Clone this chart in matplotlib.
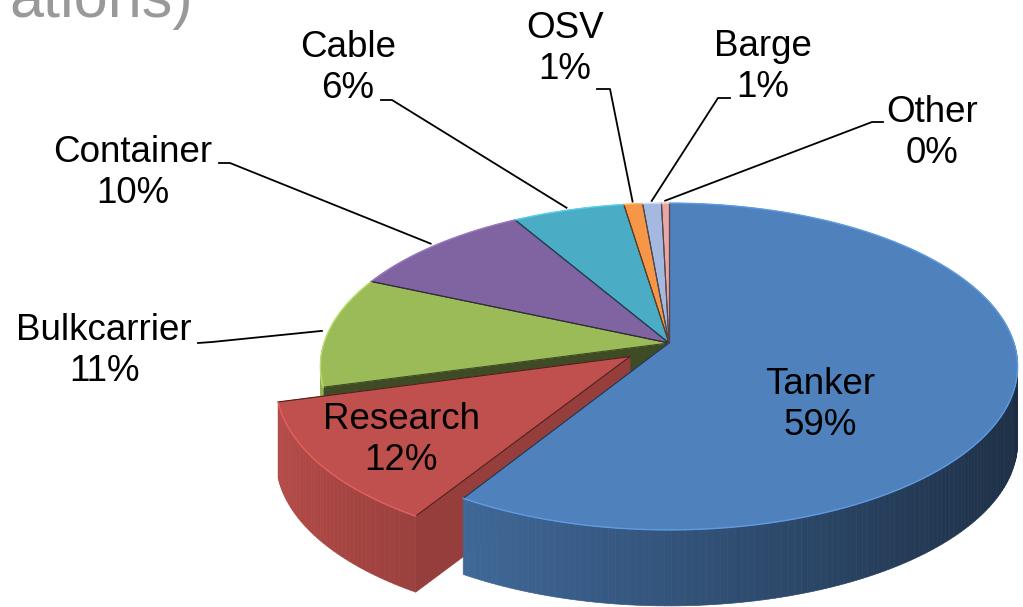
import numpy as np
import matplotlib.pyplot as plt
import matplotlib.colors as mcolors
from matplotlib.patches import Polygon

# data
categories = ["Tanker", "Research", "Bulkcarrier", "Container", "Cable", "OSV", "Barge", "Other"]
shares = [59, 12, 11, 10, 6, 1, 1, 0.4]
colors = ["#4f81bd", "#c0504d", "#9bbb59", "#8064a2", "#4bacc6", "#f79646", "#a5b8e0", "#e5a8a7"]

# layout of the fake 3d pie (pixel coordinates)
CX, CY = 669, 343
RX, RY = 345, 160
D = 6.95          # perspective distance
H = 76            # wall height
EXPLODE = {"Research": 0.14}

# label centres, leader start + elbow
label_pos = {
    "Tanker": (820, 405), "Research": (401, 440),
    "Bulkcarrier": (104, 351), "Container": (133, 173),
    "Cable": (348, 68), "OSV": (565, 49),
    "Barge": (763, 67), "Other": (932, 133),
}
leaders = {
    "Bulkcarrier": [(198, 343), (212, 342)],
    "Container": [(219, 163), (230, 163)],
    "Cable": [(381, 100), (392, 100)],
    "OSV": [(597, 89), (610, 89)],
    "Barge": [(730, 98), (718, 98)],
    "Other": [(883, 122), (872, 122)],
}


def proj(X, Y, z=0.0):
    s = D / (D + Y)
    return (CX + RX * X * s, CY - RY * Y * s + H * z)


def shade(c, f):
    r, g, b = mcolors.to_rgb(c)
    return (min(r * f, 1), min(g * f, 1), min(b * f, 1))


fig = plt.figure(figsize=(10.23, 6.07), dpi=100)
ax = fig.add_axes([0, 0, 1, 1])
ax.set_xlim(0, 1023)
ax.set_ylim(607, 0)
ax.axis("off")

total = sum(shares)
bounds = 90 - 360 * np.concatenate([[0], np.cumsum(shares)]) / total
n = len(categories)

faces = []
tops = []
for i, cat in enumerate(categories):
    a0, a1 = np.radians(bounds[i + 1]), np.radians(bounds[i])
    mid = (a0 + a1) / 2
    e = EXPLODE.get(cat, 0)
    ox, oy = e * np.cos(mid), e * np.sin(mid)

    # outer wall, split up for shading
    th = np.linspace(a0, a1, max(3, int(np.degrees(a1 - a0)) + 2))
    for t0, t1 in zip(th[:-1], th[1:]):
        tm = (t0 + t1) / 2
        if np.sin(tm) >= 0:
            continue
        p0 = (ox + np.cos(t0), oy + np.sin(t0))
        p1 = (ox + np.cos(t1), oy + np.sin(t1))
        pts = [proj(*p0), proj(*p1), proj(*p1, 1), proj(*p0, 1)]
        f = 0.65 - 0.3 * np.cos(tm)
        faces.append((oy + np.sin(tm), pts, shade(colors[i], f)))

    # cut faces, only where a slice is pulled out
    for t, side, nb in ((a0, -1, (i + 1) % n), (a1, 1, (i - 1) % n)):
        nrm = t + side * np.pi / 2
        if np.sin(nrm) >= 0:
            continue
        if e == 0 and categories[nb] not in EXPLODE:
            continue
        p = (ox + np.cos(t), oy + np.sin(t))
        pts = [proj(ox, oy), proj(*p), proj(*p, 1), proj(ox, oy, 1)]
        f = 0.78 if e else 0.4
        faces.append((oy + np.sin(t) / 2, pts, shade(colors[i], f)))

    arc = [proj(ox + np.cos(t), oy + np.sin(t)) for t in th]
    tops.append(([proj(ox, oy)] + arc, colors[i], (ox, oy, a0, a1)))

faces.sort(key=lambda f: -f[0])
for k, (_, pts, c) in enumerate(faces):
    ax.add_patch(Polygon(pts, closed=True, facecolor=c, edgecolor=c, lw=0.5, zorder=2 + k * 1e-4))

for pts, c, (ox, oy, a0, a1) in tops:
    ax.add_patch(Polygon(pts, closed=True, facecolor=c, edgecolor=c, lw=0.5, zorder=5))
    # thin dark seams between slices, soft light rim on the outside
    for t in (a0, a1):
        p = proj(ox + np.cos(t), oy + np.sin(t))
        c0 = proj(ox, oy)
        ax.plot([c0[0], p[0]], [c0[1], p[1]], color=shade(c, 0.4), lw=0.8, zorder=6)
    rim = np.array(pts[1:])
    ax.plot(rim[:, 0], rim[:, 1], color=shade(c, 1.2), lw=1.0, zorder=6)

# labels
for i, cat in enumerate(categories):
    pct = round(shares[i] / total * 100)
    x, y = label_pos[cat]
    ax.text(x, y, f"{cat}\n{pct}%", ha="center", va="center", fontsize=26.5,
            family="Liberation Sans", color="black", linespacing=1.2, zorder=8)
    if cat in leaders:
        mid = np.radians((bounds[i] + bounds[i + 1]) / 2)
        end = proj(1.02 * np.cos(mid), 1.02 * np.sin(mid))
        xs = [p[0] for p in leaders[cat]] + [end[0]]
        ys = [p[1] for p in leaders[cat]] + [end[1]]
        ax.plot(xs, ys, color="black", lw=1.3, zorder=7)

# what is left of the slide title
ax.text(193, 17, "ations)", ha="right", va="baseline", fontsize=44,
        family="Liberation Sans", color="#999999")

fig.savefig("out.png", dpi=100)
